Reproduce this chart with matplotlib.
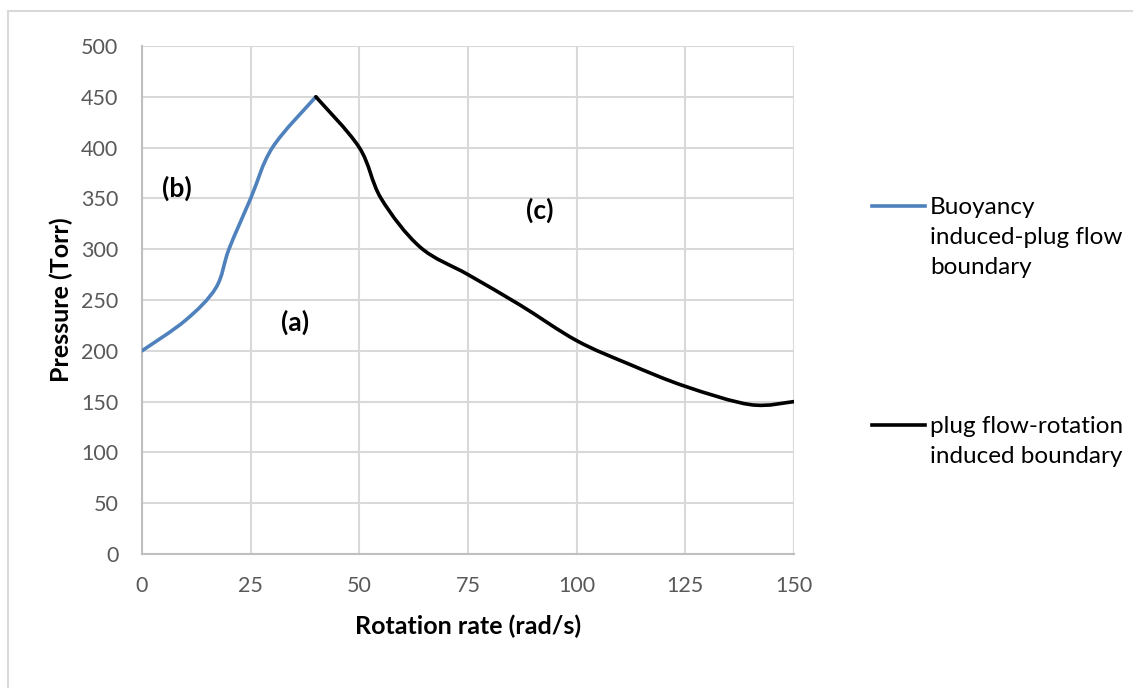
import numpy as np
import matplotlib
matplotlib.use("Agg")
import matplotlib.pyplot as plt
from matplotlib.path import Path
from matplotlib.patches import PathPatch, Rectangle
from matplotlib.lines import Line2D

# Data
buoy_x = [0, 10, 17, 20, 25, 30, 40]
buoy_y = [200, 230, 262, 300, 350, 400, 450]
plug_x = [40, 50, 55, 64, 75, 87, 100, 112, 125, 140, 150]
plug_y = [450, 400, 350, 302, 275, 245, 210, 187, 165, 147, 150]
series_labels = ["Buoyancy\ninduced-plug flow\nboundary",
                 "plug flow-rotation\ninduced boundary"]
region_labels = ["(b)", "(a)", "(c)"]
region_x = [8.0, 35.2, 91.5]
region_y = [360, 228, 338]
xticks = [0, 25, 50, 75, 100, 125, 150]
yticks = [0, 50, 100, 150, 200, 250, 300, 350, 400, 450, 500]

plt.rcParams['font.family'] = ['Lato', 'DejaVu Sans']

fig = plt.figure(figsize=(11.33, 6.88), dpi=100)
# chart-area border
fig.patches.append(Rectangle((8/1133, -0.01), 1.2, 1 - 11/688 + 0.01,
                             transform=fig.transFigure, fill=False,
                             edgecolor='#d9d9d9', linewidth=1.5))
ax = fig.add_axes([142/1133, 1 - 554/688, (794 - 142)/1133, (554 - 46)/688])


def smooth_path(xs, ys):
    pts = np.column_stack([xs, ys]).astype(float)
    n = len(pts)
    verts = [pts[0]]
    codes = [Path.MOVETO]
    for i in range(n - 1):
        p0 = pts[i - 1] if i > 0 else pts[i]
        p1 = pts[i]
        p2 = pts[i + 1]
        p3 = pts[i + 2] if i + 2 < n else pts[i + 1]
        c1 = p1 + (p2 - p0) / 6.0
        c2 = p2 - (p3 - p1) / 6.0
        verts += [c1, c2, p2]
        codes += [Path.CURVE4] * 3
    return Path(verts, codes)


ax.add_patch(PathPatch(smooth_path(buoy_x, buoy_y), facecolor='none',
                       edgecolor='#4f81bd', linewidth=2.6, zorder=3,
                       capstyle='round'))
ax.add_patch(PathPatch(smooth_path(plug_x, plug_y), facecolor='none',
                       edgecolor='black', linewidth=2.6, zorder=3,
                       capstyle='round'))

ax.set_xlim(0, 150)
ax.set_ylim(0, 500)
ax.set_xticks(xticks)
ax.set_yticks(yticks)
ax.grid(True, color='#d9d9d9', linewidth=1.5)
ax.set_axisbelow(True)
for s in ['top', 'right']:
    ax.spines[s].set_visible(False)
for s in ['left', 'bottom']:
    ax.spines[s].set_color('#bfbfbf')
    ax.spines[s].set_linewidth(1.5)
ax.tick_params(axis='y', length=0, labelsize=15.5, labelcolor='#595959', pad=17)
ax.tick_params(axis='x', length=0, labelsize=15.5, labelcolor='#595959', pad=16)
ax.set_xlabel("Rotation rate (rad/s)", fontsize=18, fontweight='bold', labelpad=13)
ax.set_ylabel("Pressure (Torr)", fontsize=18, fontweight='bold', labelpad=6)

for t, x, y in zip(region_labels, region_x, region_y):
    ax.text(x, y, t, fontsize=19, fontweight='bold', ha='center', va='center')

# legend
fig.add_artist(Line2D([872/1133, 925/1133], [1 - 206/688] * 2,
                      color='#4f81bd', linewidth=2.6, transform=fig.transFigure))
fig.add_artist(Line2D([872/1133, 925/1133], [1 - 425/688] * 2,
                      color='black', linewidth=2.6, transform=fig.transFigure))
fig.text(930/1133, 1 - 197/688, series_labels[0], fontsize=17.5,
         va='top', ha='left', linespacing=1.52)
fig.text(930/1133, 1 - 416/688, series_labels[1], fontsize=17.5,
         va='top', ha='left', linespacing=1.52)

fig.savefig("out.png", dpi=100)
